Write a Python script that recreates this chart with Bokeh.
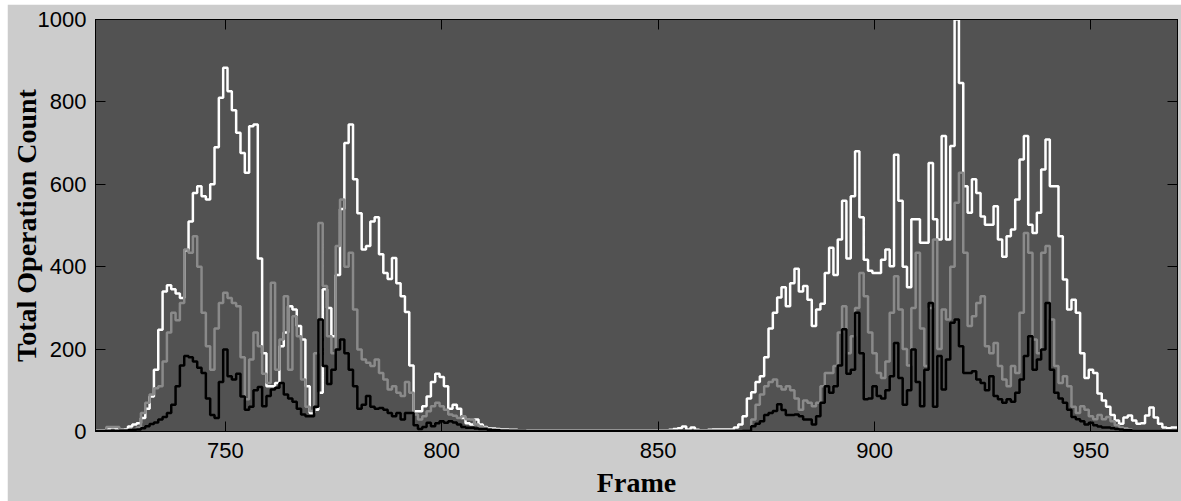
from bokeh.plotting import figure
from bokeh.models import LinearAxis, FixedTicker, Range1d
from bokeh.embed import file_html
from bokeh.resources import INLINE

frames = list(range(720, 971))

x_ticks = [750, 800, 850, 900, 950]
y_ticks = [0, 200, 400, 600, 800, 1000]

white = [
    3, 3, 3, 8, 10, 8, 5, 5, 12, 17,            # 720
    20, 33, 55, 85, 150, 247, 340, 355, 345, 335,  # 730
    324, 440, 510, 579, 595, 571, 563, 600, 690, 810,  # 740
    883, 826, 780, 725, 676, 628, 741, 745, 420, 190,  # 750
    110, 110, 118, 207, 240, 304, 296, 256, 223, 110,  # 760
    45, 53, 94, 345, 300, 231, 380, 540, 700, 745,  # 770
    612, 530, 442, 450, 510, 520, 430, 385, 370, 421,  # 780
    360, 328, 290, 160, 49, 49, 61, 85, 120, 140,  # 790
    132, 110, 55, 65, 55, 33, 20, 17, 29, 17,  # 800
    11, 8, 7, 6, 5, 5, 4, 4, 3, 3,  # 810
    3, 3, 3, 3, 3, 3, 3, 3, 3, 3,  # 820
    3, 3, 3, 3, 3, 3, 3, 3, 3, 3,  # 830
    3, 3, 3, 3, 3, 3, 3, 3, 3, 3,  # 840
    3, 3, 3, 4, 6, 8, 12, 5, 10, 4,  # 850
    3, 3, 4, 5, 5, 5, 5, 5, 10, 17,  # 860
    37, 80, 95, 120, 134, 180, 250, 288, 325, 350,  # 870
    304, 360, 395, 340, 353, 320, 256, 296, 310, 385,  # 880
    446, 380, 466, 560, 420, 571, 680, 520, 417, 390,  # 890
    385, 385, 417, 442, 401, 672, 560, 400, 350, 515,  # 900
    515, 458, 458, 652, 515, 466, 717, 466, 693, 1000,  # 910
    846, 595, 531, 612, 579, 522, 502, 502, 547, 466,  # 920
    424, 474, 490, 563, 660, 717, 502, 482, 531, 636,  # 930
    709, 595, 595, 474, 369, 296, 320, 288, 190, 130,  # 940
    150, 142, 92, 75, 60, 40, 27, 19, 34, 39,  # 950
    27, 19, 20, 39, 58, 34, 19, 10, 8, 10,  # 960
    10,  # 970
]

gray = [
    2, 2, 2, 11, 11, 11, 5, 3, 5, 5,  # 720
    10, 45, 70, 90, 105, 110, 170, 240, 288, 270,  # 730
    312, 442, 434, 474, 400, 288, 207, 150, 250, 312,  # 740
    337, 324, 312, 304, 180, 78, 175, 240, 207, 140,  # 750
    118, 361, 150, 223, 328, 150, 280, 231, 126, 60,  # 760
    50, 190, 506, 353, 231, 190, 450, 563, 400, 434,  # 770
    296, 199, 175, 167, 159, 175, 142, 126, 102, 110,  # 780
    94, 86, 120, 94, 41, 29, 37, 49, 61, 70,  # 790
    61, 53, 41, 38, 33, 37, 30, 29, 17, 12,  # 800
    9, 6, 5, 4, 3, 3, 2, 2, 2, 2,  # 810
    2, 2, 2, 2, 2, 2, 2, 2, 2, 2,  # 820
    2, 2, 2, 2, 2, 2, 2, 2, 2, 2,  # 830
    2, 2, 2, 2, 2, 2, 2, 2, 2, 2,  # 840
    2, 2, 2, 2, 2, 2, 2, 2, 2, 2,  # 850
    2, 2, 2, 2, 2, 2, 2, 2, 2, 2,  # 860
    2, 2, 29, 65, 90, 110, 120, 126, 110, 102,  # 870
    110, 100, 80, 53, 75, 70, 61, 70, 110, 142,  # 880
    142, 159, 240, 304, 190, 231, 300, 385, 328, 240,  # 890
    190, 142, 130, 170, 288, 377, 296, 200, 160, 300,  # 900
    434, 250, 159, 300, 466, 200, 296, 272, 400, 555,  # 910
    628, 434, 256, 280, 312, 328, 207, 190, 215, 159,  # 920
    126, 110, 159, 142, 288, 482, 434, 223, 190, 434,  # 930
    450, 272, 159, 118, 134, 110, 60, 45, 61, 53,  # 940
    37, 30, 40, 30, 35, 25, 15, 10, 8, 5,  # 950
    3, 3, 3, 3, 3, 3, 3, 3, 3, 3,  # 960
    3,  # 970
]

black = [
    1, 1, 1, 1, 1, 1, 2, 2, 3, 4,  # 720
    5, 8, 13, 18, 22, 29, 35, 45, 65, 110,  # 730
    160, 183, 180, 170, 155, 142, 80, 40, 33, 120,  # 740
    199, 134, 126, 140, 85, 53, 60, 100, 108, 61,  # 750
    86, 102, 106, 118, 90, 80, 72, 55, 41, 37,  # 760
    37, 60, 272, 159, 115, 150, 199, 223, 190, 150,  # 770
    110, 55, 65, 86, 60, 55, 57, 53, 45, 37,  # 780
    45, 29, 45, 45, 15, 6, 11, 21, 13, 20,  # 790
    25, 21, 25, 22, 17, 11, 9, 9, 7, 6,  # 800
    6, 4, 3, 3, 2, 2, 2, 2, 2, 2,  # 810
    1, 1, 1, 1, 1, 1, 1, 1, 1, 1,  # 820
    1, 1, 1, 1, 1, 1, 1, 1, 1, 1,  # 830
    1, 1, 1, 1, 1, 1, 1, 1, 1, 1,  # 840
    1, 1, 1, 1, 1, 1, 1, 1, 1, 1,  # 850
    1, 1, 1, 1, 1, 1, 1, 1, 1, 1,  # 860
    2, 2, 13, 19, 25, 40, 45, 50, 66, 52,  # 870
    40, 40, 41, 37, 29, 29, 17, 37, 70, 110,  # 880
    94, 110, 160, 248, 140, 150, 288, 190, 78, 80,  # 890
    110, 86, 80, 100, 134, 215, 130, 65, 100, 199,  # 900
    120, 61, 150, 312, 60, 183, 102, 175, 264, 272,  # 910
    207, 142, 142, 146, 126, 118, 100, 134, 86, 78,  # 920
    70, 78, 72, 94, 126, 183, 231, 150, 175, 199,  # 930
    312, 150, 94, 80, 70, 53, 35, 30, 25, 17,  # 940
    21, 15, 12, 10, 10, 8, 6, 5, 3, 3,  # 950
    2, 2, 2, 2, 2, 2, 2, 2, 2, 2,  # 960
    2,  # 970
]

assert len(white) == len(frames) == len(gray) == len(black)

p = figure(width=1174, height=497, output_backend="svg", toolbar_location=None,
           x_range=Range1d(720, 970), y_range=Range1d(0, 1000),
           min_border_left=88, min_border_right=4, min_border_top=15,
           min_border_bottom=70)
p.margin = (4, 0, 0, 7)
p.background_fill_color = "#525252"
p.border_fill_color = "#cccccc"
p.outline_line_color = "black"
p.outline_line_width = 1
p.grid.visible = False

tick_font = "Liberation Sans"
label_font = "Liberation Serif"


def style_axis(ax, ticks, show_labels=True):
    ax.ticker = FixedTicker(ticks=ticks)
    ax.major_tick_in = 10
    ax.major_tick_out = 0
    ax.minor_tick_in = 0
    ax.minor_tick_out = 0
    ax.axis_line_color = "black"
    ax.major_tick_line_color = "black"
    ax.major_tick_line_width = 1
    if show_labels:
        ax.major_label_text_font = tick_font
        ax.major_label_text_font_size = "22px"
        ax.major_label_text_color = "black"
    else:
        ax.major_label_text_font_size = "0px"
        ax.major_label_text_color = None
        ax.major_label_standoff = 0


style_axis(p.xaxis[0], x_ticks)
style_axis(p.yaxis[0], y_ticks)
p.xaxis[0].major_label_standoff = 11
p.yaxis[0].major_label_standoff = 9

p.xaxis[0].axis_label = "Frame"
p.yaxis[0].axis_label = "Total Operation Count"
for ax in (p.xaxis[0], p.yaxis[0]):
    ax.axis_label_text_font = label_font
    ax.axis_label_text_font_style = "bold"
    ax.axis_label_text_font_size = "28px"
    ax.axis_label_text_color = "black"
p.xaxis[0].axis_label_standoff = 6
p.yaxis[0].axis_label_standoff = -7

top_ax = LinearAxis()
style_axis(top_ax, x_ticks, show_labels=False)
p.add_layout(top_ax, "above")
right_ax = LinearAxis()
style_axis(right_ax, y_ticks, show_labels=False)
p.add_layout(right_ax, "right")

p.step(frames, white, mode="center", line_color="white", line_width=2.5)
p.step(frames, gray, mode="center", line_color="#8a8a8a", line_width=2.5)
p.step(frames, black, mode="center", line_color="black", line_width=2.5)

open("out.html", "w").write(file_html(p, INLINE))
